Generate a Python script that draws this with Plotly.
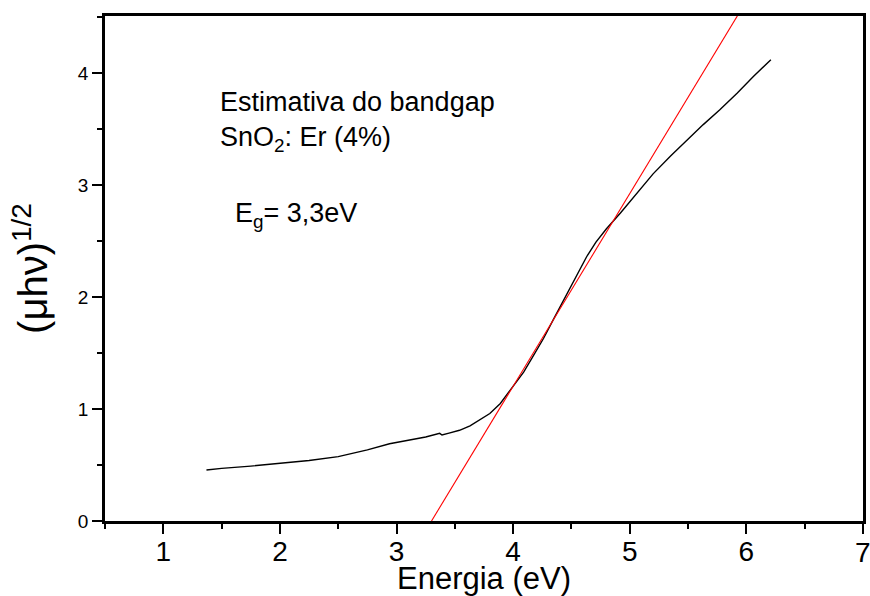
import plotly.graph_objects as go

# Measured (μhν)^1/2 versus photon energy for SnO2:Er (4%)
energia = [1.37, 1.50, 1.75, 2.00, 2.25, 2.50, 2.75, 2.94, 3.10, 3.25, 3.37, 3.39,
           3.45, 3.54, 3.63, 3.71, 3.80, 3.89, 4.00, 4.09, 4.17, 4.26, 4.34, 4.42,
           4.49, 4.56, 4.63, 4.71, 4.80, 4.92, 5.06, 5.20, 5.35, 5.49, 5.63, 5.77,
           5.92, 6.06, 6.21]
absorcao = [0.455, 0.470, 0.490, 0.515, 0.540, 0.575, 0.635, 0.690, 0.720, 0.750,
            0.783, 0.768, 0.785, 0.810, 0.850, 0.900, 0.960, 1.050, 1.200, 1.330,
            1.470, 1.630, 1.790, 1.950, 2.090, 2.230, 2.360, 2.490, 2.610, 2.750,
            2.930, 3.100, 3.260, 3.400, 3.540, 3.670, 3.820, 3.970, 4.120]

# Linear fit of the absorption edge; its x-intercept is the band gap
eg = 3.3
slope = 1.72
fit_x = [eg, eg + 4.6 / slope]
fit_y = [slope * (x - eg) for x in fit_x]

x_ticks = [1, 2, 3, 4, 5, 6, 7]
y_ticks = [0, 1, 2, 3, 4]

font = "Liberation Sans, Arial, sans-serif"

fig = go.Figure()
fig.add_trace(go.Scatter(x=energia, y=absorcao, mode="lines",
                         line=dict(color="black", width=1.4), showlegend=False))
fig.add_trace(go.Scatter(x=fit_x, y=fit_y, mode="lines",
                         line=dict(color="red", width=1.1), showlegend=False))

axis_common = dict(
    showgrid=False, zeroline=False, showline=True, linecolor="black",
    linewidth=2.5, mirror=True, ticks="outside", ticklen=10, tickwidth=2,
    tickcolor="black", automargin=False,
)
minor_common = dict(ticks="outside", dtick=0.5, ticklen=5, tickwidth=2,
                    tickcolor="black")

xtick_font = dict(family=font, size=28, color="black")

fig.update_xaxes(
    range=[0.5, 7], tickvals=x_ticks,
    minor=dict(tick0=0.5, **minor_common),
    tickfont=xtick_font, ticklabelstandoff=-6,
    title=dict(text="Energia (eV)", font=dict(family=font, size=31, color="black"),
               standoff=0),
    **axis_common,
)
fig.update_yaxes(
    range=[0, 4.51], tickvals=y_ticks,
    minor=dict(tick0=0, **minor_common),
    tickfont=dict(family=font, size=19, color="black"),
    title=dict(text="(μhν)<sup>1/2</sup>",
               font=dict(family=font, size=40, color="black"), standoff=18),
    **axis_common,
)

# the last tick label sits on the page edge, where the axis would drop it
fig.add_annotation(text=str(x_ticks[-1]), x=x_ticks[-1], xref="x", y=0, yref="paper",
                   yanchor="top", yshift=-14, showarrow=False, font=xtick_font)

W, H = 870, 596
L, R, T, B = 105, 7, 16, 75


def px_x(p):
    return (p - L) / (W - L - R)


def px_y(p):
    return 1 - (p - T) / (H - T - B)


annot_font = dict(family=font, size=27, color="black")
labels = [
    ("Estimativa do bandgap", 218, 102),
    ("SnO<sub>2</sub>: Er (4%)", 218, 139),
    ("E<sub>g</sub>= 3,3eV", 233, 215),
]
for text, lx, ly in labels:
    fig.add_annotation(text=text, x=px_x(lx), y=px_y(ly), xref="paper", yref="paper",
                       showarrow=False, font=annot_font, xanchor="left",
                       yanchor="middle")

fig.update_layout(
    width=W, height=H, margin=dict(l=L, r=R, t=T, b=B),
    paper_bgcolor="white", plot_bgcolor="white",
)

fig.write_html("out.html")
